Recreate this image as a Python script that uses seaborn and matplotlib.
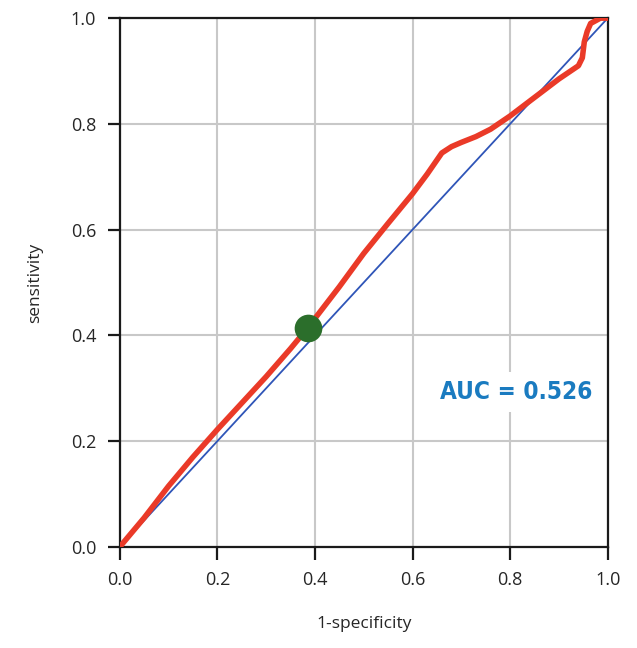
import matplotlib
matplotlib.use("Agg")
import matplotlib.pyplot as plt
import seaborn as sns
import pandas as pd

# ROC curve (red)
roc_fpr = [0.0, 0.02, 0.05, 0.10, 0.15, 0.20, 0.25, 0.30, 0.35, 0.385, 0.40, 0.45, 0.50, 0.55,
           0.60, 0.63, 0.66, 0.68, 0.70, 0.73, 0.76, 0.80, 0.85, 0.90, 0.94, 0.948, 0.952,
           0.958, 0.965, 0.975, 0.985, 1.0]
roc_tpr = [0.0, 0.022, 0.055, 0.115, 0.17, 0.222, 0.272, 0.322, 0.375, 0.414, 0.432, 0.492, 0.555, 0.612,
           0.668, 0.705, 0.745, 0.757, 0.765, 0.776, 0.790, 0.815, 0.850, 0.885, 0.910, 0.925, 0.955,
           0.975, 0.990, 0.995, 1.0, 1.0]

# Reference (blue) line
ref_fpr = [0.0, 0.1, 0.2, 0.3, 0.4, 0.5, 0.6, 0.7, 0.8, 0.9, 1.0]
ref_tpr = [0.0, 0.1, 0.2, 0.3, 0.4, 0.5, 0.6, 0.7, 0.8, 0.9, 1.0]

# Optimal cut-off point (green)
cut_fpr = [0.385]
cut_tpr = [0.414]

ticks = [0.0, 0.2, 0.4, 0.6, 0.8, 1.0]
tick_labels = ["0.0", "0.2", "0.4", "0.6", "0.8", "1.0"]
auc_text = "AUC = 0.526"

sns.set_style("white")
plt.rcParams["font.family"] = ["Open Sans", "DejaVu Sans"]

fig = plt.figure(figsize=(6.37, 6.48), dpi=100)
ax = fig.add_axes([0.188, 0.156, 0.766, 0.816])

roc = pd.DataFrame({"fpr": roc_fpr, "tpr": roc_tpr})
ref = pd.DataFrame({"fpr": ref_fpr, "tpr": ref_tpr})
cut = pd.DataFrame({"fpr": cut_fpr, "tpr": cut_tpr})

sns.lineplot(data=ref, x="fpr", y="tpr", ax=ax, color="#2f55b8", linewidth=1.3,
             sort=False, estimator=None, zorder=3)
sns.lineplot(data=roc, x="fpr", y="tpr", ax=ax, color="#ea3a28", linewidth=4.0,
             sort=False, estimator=None, zorder=4)
sns.scatterplot(data=cut, x="fpr", y="tpr", ax=ax, color="#2b6e2b", s=340,
                edgecolor="#2b6e2b", zorder=5)

ax.set_xlim(0, 1)
ax.set_ylim(0, 1)
ax.set_xticks(ticks)
ax.set_xticklabels(tick_labels)
ax.set_yticks(ticks)
ax.set_yticklabels(tick_labels)
ax.grid(True, color="#c8c8c8", linewidth=1.5)
ax.set_axisbelow(True)
for s in ax.spines.values():
    s.set_color("#1a1a1a")
    s.set_linewidth(1.6)
ax.tick_params(axis="both", direction="out", length=9, width=1.6, color="#1a1a1a",
               labelsize=13, pad=8, bottom=True, left=True)

ax.set_xlabel("1-specificity", fontsize=12.5, labelpad=20)
ax.set_ylabel("sensitivity", fontsize=12.5, labelpad=20)

ax.text(0.813, 0.293, auc_text, transform=ax.transData, ha="center", va="center",
        fontsize=17.5, fontweight="bold", color="#1a7bc0", fontstretch="condensed",
        family=["DejaVu Sans"],
        bbox=dict(facecolor="white", edgecolor="none", pad=6), zorder=6)

fig.savefig("out.png", dpi=100)
